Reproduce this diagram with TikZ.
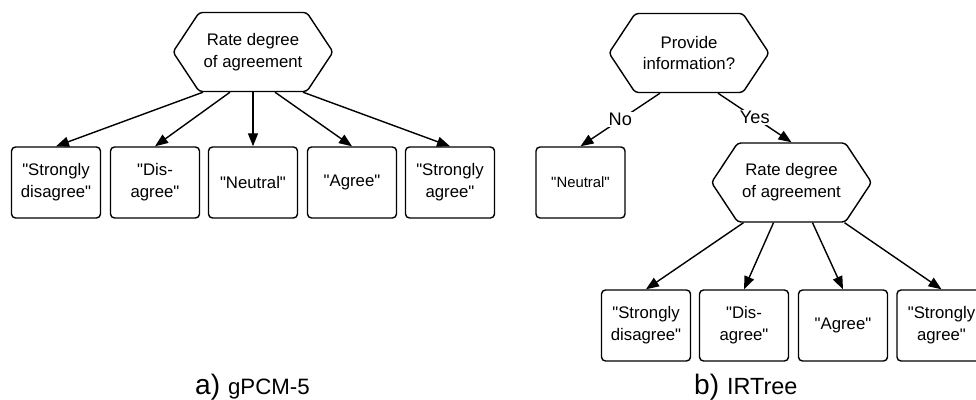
\documentclass[tikz,border=0pt]{standalone}
\usepackage{fontspec}
\setmainfont{Liberation Sans}[Ligatures=TeXOff]
\usetikzlibrary{shapes.symbols,arrows.meta}

\begin{document}
\begin{tikzpicture}[x=0.03cm,y=-0.03cm,
  hexnode/.style={draw,signal,signal to=east and west,signal pointer angle=113,
    minimum width=4.8cm,minimum height=2.37cm,rounded corners=0.1cm,line width=1.2pt,
    align=center,inner sep=0pt,font=\fontsize{14.3}{18.7}\selectfont},
  optbox/.style={draw,rectangle,rounded corners=0.12cm,minimum width=2.67cm,
    minimum height=2.13cm,line width=1.2pt,align=center,inner sep=0pt,
    font=\fontsize{14.3}{18.7}\selectfont},
  arr/.style={line width=1.2pt,-{Triangle[length=0.39cm,width=0.3cm]}},
  lbl/.style={fill=white,inner sep=1pt,font=\fontsize{15.5}{18}\selectfont}]
	% frame
	\useasboundingbox (0,0) rectangle (976,400);
	% a) gPCM-5
	\node[hexnode] (ratea) at (253,52) {Rate degree\\of agreement};
	\node[optbox] (sda) at (56,182.5) {"Strongly\\disagree"};
	\node[optbox] (da) at (155,182.5) {"Dis-\\agree"};
	\node[optbox] (neua) at (253,182.5) {"Neutral"};
	\node[optbox] (aga) at (352,182.5) {"Agree"};
	\node[optbox] (saa) at (450,182.5) {"Strongly\\agree"};
	\draw[arr] ([xshift=-1.5cm]ratea.south) -- (sda.north);
	\draw[arr] ([xshift=-0.69cm]ratea.south) -- (da.north);
	\draw[arr] (ratea.south) -- (neua.north);
	\draw[arr] ([xshift=0.66cm]ratea.south) -- (aga.north);
	\draw[arr] ([xshift=1.5cm]ratea.south) -- (saa.north);
	% b) IRTree
	\node[hexnode] (prov) at (689,53) {Provide\\information?};
	\node[optbox,font=\fontsize{12.7}{16}\selectfont] (neub) at (580.5,182.5) {"Neutral"};
	\node[hexnode] (rateb) at (791.5,182.5) {Rate degree\\of agreement};
	\draw[arr] ([xshift=-0.87cm]prov.south) -- node[lbl] (no) {No} (neub.north);
	\draw[arr] ([xshift=0.87cm]prov.south) -- node[lbl] (yes) {Yes} (rateb.north);
	\node[optbox] (sdb) at (646,325.5) {"Strongly\\disagree"};
	\node[optbox] (db) at (744,325.5) {"Dis-\\agree"};
	\node[optbox] (agb) at (843,325.5) {"Agree"};
	\node[optbox] (sab) at (941.5,325.5) {"Strongly\\agree"};
	\draw[arr] ([xshift=-1.44cm]rateb.south) -- (sdb.north);
	\draw[arr] ([xshift=-0.54cm]rateb.south) -- (db.north);
	\draw[arr] ([xshift=0.63cm]rateb.south) -- (agb.north);
	\draw[arr] ([xshift=1.59cm]rateb.south) -- (sab.north);
	% captions
	\node[anchor=base west,inner sep=0pt] (capa) at (195,394) {\fontsize{24}{25}\selectfont a) \fontsize{19}{20}\selectfont gPCM-5};
	\node[anchor=base west,inner sep=0pt] (capb) at (694,394) {\fontsize{24}{25}\selectfont b) \fontsize{20}{20}\selectfont IRTree};
\end{tikzpicture}
\end{document}
